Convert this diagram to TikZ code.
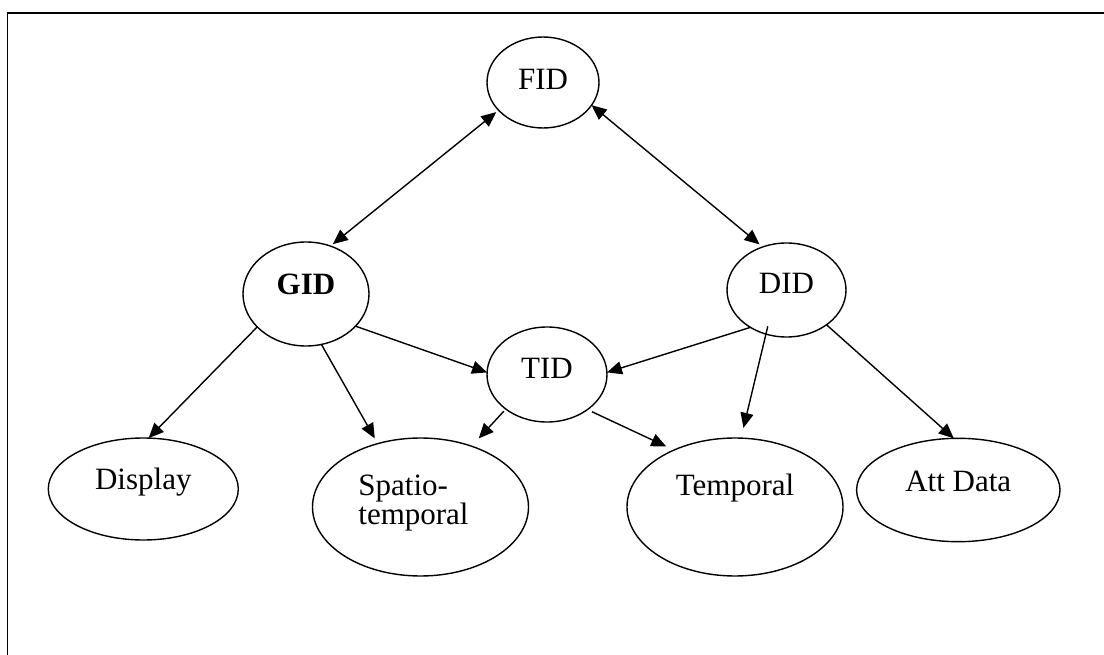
\documentclass[tikz,border=0pt]{standalone}
\usepackage{fontspec}
\setmainfont{Liberation Serif}
\usetikzlibrary{arrows.meta,shapes.geometric}

\begin{document}
\begin{tikzpicture}[x=1pt,y=-1pt,
  font=\fontsize{31}{28}\selectfont,
  oval/.style n args={2}{ellipse, draw, line width=1.4pt, inner sep=0pt,
    outer sep=0pt, minimum width=#1pt, minimum height=#2pt, text height=22pt},
  link/.style={line width=1.4pt, -{Triangle[length=15pt,width=13pt]}},
  both/.style={line width=1.4pt,
    {Triangle[length=15pt,width=13pt]}-{Triangle[length=15pt,width=13pt]}},
  frame/.style={line width=1.6pt}
]
\useasboundingbox (0,0) rectangle (1104,655);

% outer frame (runs off the right and bottom edges)
\draw[frame] (7.3,13.3) rectangle (1130,690);

% identifiers
\node[oval={112}{91}, text depth=7pt] (fid) at (543,82.5) {FID};
\node[oval={126}{104}, text depth=20pt] (gid) at (306,294) {\bfseries GID};
\node[oval={120}{95}, text depth=15pt] (tid) at (547,374.5) {TID};
\node[oval={119}{94}, text depth=14pt] (did) at (786.5,290) {DID};

% data kinds
\node[oval={190}{102}, text depth=22pt] (disp) at (143.3,489) {Display};
\node[oval={216}{138},
  label={[align=left,xshift=-7pt,yshift=4pt]center:Spatio-\\temporal}]
  (spt) at (420.5,507) {};
\node[oval={216}{138}, text depth=46pt] (tmp) at (735,507) {Temporal};
\node[oval={203.4}{103.4}, text depth=18.6pt] (att) at (958.3,490) {Att Data};

% relations
\draw[both, shorten <=3pt, shorten >=3pt] (fid.212.4) -- (gid.63.4);
\draw[both, shorten >=4pt] (fid.335.3) -- (did.119.7);
\draw[link] (gid.214.2) -- (disp.84.4);
\draw[link, shorten >=6pt] (gid.287.4) -- (spt.124.4);
\draw[link] (gid.327.1) -- (tid.178.6);
\draw[link] (did.226.4) -- (tid.2);
\draw[link, shorten <=-8pt, shorten >=10.5pt] (did.245.1) -- (tmp.85.4);
\draw[link] (did.319.9) -- (att.95.5);
\draw[link, shorten <=3pt, shorten >=10.5pt] (tid.220) -- (spt.50.2);
\draw[link, shorten <=5pt, shorten >=8.5pt] (tid.319.8) -- (tmp.137.8);
\end{tikzpicture}
\end{document}
